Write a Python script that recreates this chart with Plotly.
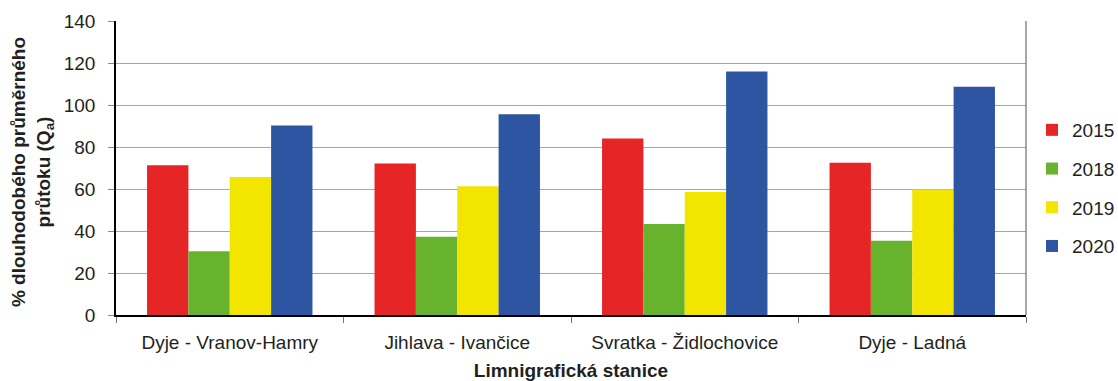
import plotly.graph_objects as go

stations = ["Dyje - Vranov-Hamry", "Jihlava - Ivančice", "Svratka - Židlochovice", "Dyje - Ladná"]
years = ["2015", "2018", "2019", "2020"]
v2015 = [71.3, 72.2, 84.1, 72.5]
v2018 = [30.3, 37.3, 43.3, 35.4]
v2019 = [65.7, 61.3, 58.6, 59.8]
v2020 = [90.2, 95.6, 116.0, 108.7]
colors = ["#E52526", "#67B32E", "#F2E500", "#2E55A2"]

series = [v2015, v2018, v2019, v2020]

FONT = "Liberation Sans, Arial, sans-serif"
TXT = "#231F20"

fig = go.Figure()
for name, vals, col in zip(years, series, colors):
    fig.add_trace(go.Bar(
        x=stations, y=vals, name=name, legendgroup=name,
        marker=dict(color=col, line=dict(width=0)),
    ))

fig.update_layout(
    width=1118, height=381,
    margin=dict(l=116, r=92, t=21, b=66, autoexpand=False),
    paper_bgcolor="white", plot_bgcolor="white",
    barmode="group", bargap=0.273, bargroupgap=0,
    font=dict(family=FONT, size=19, color=TXT),
    showlegend=True,
    legend=dict(
        xref="container", yref="container",
        x=1032 / 1118, xanchor="left", y=1 - 111 / 381, yanchor="top",
        traceorder="grouped", tracegroupgap=11,
        font=dict(family=FONT, size=19, color=TXT),
        bgcolor="rgba(0,0,0,0)",
    ),
    xaxis=dict(
        showline=True, linecolor="black", linewidth=1.5,
        ticks="outside", tickson="boundaries", ticklen=6, tickcolor="#777",
        showgrid=False, automargin=False,
        tickfont=dict(family=FONT, size=19, color=TXT),
        ticklabelstandoff=9,
        title=dict(text="<b>Limnigrafická stanice</b>", standoff=12,
                   font=dict(family=FONT, size=19, color=TXT)),
    ),
    yaxis=dict(
        range=[0, 140], dtick=20,
        showline=True, linecolor="black", linewidth=1.5,
        ticks="outside", ticklen=6, tickcolor="#888",
        showgrid=True, gridcolor="#A6A6A6", gridwidth=1.3,
        zeroline=False, automargin=False,
        tickfont=dict(family=FONT, size=19, color=TXT),
        ticklabelstandoff=9,
    ),
    annotations=[dict(
        text="<b>% dlouhodobého průměrného<br>průtoku (Q<sub>a</sub>)</b>",
        textangle=-90, xref="paper", yref="paper",
        x=(32 - 116) / 910, y=0.486, xanchor="center", yanchor="middle",
        showarrow=False, font=dict(family=FONT, size=19, color=TXT),
    )],
    shapes=[dict(type="line", xref="paper", yref="paper", x0=1, x1=1, y0=0, y1=1,
                 line=dict(color="#777", width=1.3))],
)

fig.write_html("out.html")
